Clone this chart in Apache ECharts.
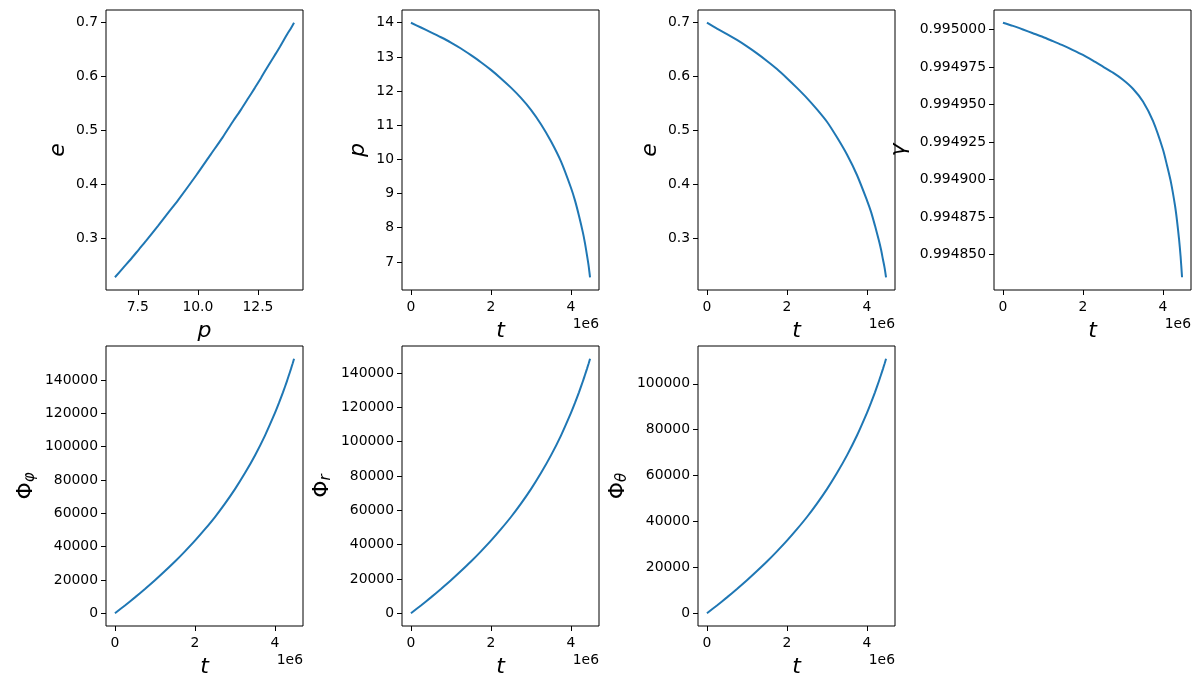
<!DOCTYPE html>
<html>
<head>
<meta charset="utf-8">
<script src="https://cdn.jsdelivr.net/npm/echarts@6/dist/echarts.min.js"></script>
<style>
html,body{margin:0;padding:0;background:#fff;}
#chart{width:1200px;height:688px;}
</style>
</head>
<body>
<div id="chart"></div>
<script>
// ---- data ----
const tValues = [0, 0.25e6, 0.5e6, 0.75e6, 1.0e6, 1.25e6, 1.5e6, 1.75e6, 2.0e6, 2.25e6, 2.5e6, 2.75e6, 3.0e6, 3.25e6, 3.5e6, 3.75e6, 4.0e6, 4.1e6, 4.2e6, 4.3e6, 4.35e6, 4.4e6, 4.44e6, 4.477e6];
const pValues = [14.00, 13.86, 13.72, 13.575, 13.42, 13.245, 13.05, 12.845, 12.62, 12.37, 12.10, 11.80, 11.45, 11.03, 10.53, 9.94, 9.17, 8.80, 8.35, 7.85, 7.55, 7.20, 6.90, 6.55];
const eValues = [0.700, 0.689, 0.679, 0.668, 0.656, 0.643, 0.629, 0.614, 0.597, 0.579, 0.560, 0.539, 0.516, 0.487, 0.455, 0.417, 0.370, 0.349, 0.323, 0.295, 0.279, 0.260, 0.245, 0.227];
const gammaValues = [0.9950045, 0.9950024, 0.9950000, 0.9949975, 0.9949950, 0.9949922, 0.9949894, 0.9949863, 0.9949830, 0.9949792, 0.9949752, 0.9949712, 0.9949665, 0.9949605, 0.9949520, 0.9949390, 0.9949200, 0.9949095, 0.9948981, 0.9948828, 0.9948728, 0.9948608, 0.9948490, 0.9948348];
const phiPhiValues = [0, 4690, 9540, 14570, 19790, 25320, 31040, 37160, 43570, 50470, 57780, 65820, 74520, 84150, 94760, 106680, 120270, 126260, 132600, 139400, 143040, 146700, 149790, 152800];
const phiRValues = [0, 4550, 9260, 14150, 19210, 24580, 30140, 36080, 42300, 49000, 56100, 63900, 72350, 81700, 92000, 103570, 116770, 122580, 128740, 135340, 138870, 142430, 145430, 148340];
const phiThetaValues = [0, 3400, 6930, 10580, 14370, 18390, 22540, 26990, 31640, 36650, 41960, 47800, 54120, 61110, 68820, 77470, 87340, 91690, 96300, 101230, 103880, 106540, 108780, 110950];

// tick labels
const tTicks = [0, 2e6, 4e6];
const pTicksX = [7.5, 10.0, 12.5];
const pTicksY = [7, 8, 9, 10, 11, 12, 13, 14];
const eTicks = [0.3, 0.4, 0.5, 0.6, 0.7];
const gammaTicks = [0.994850, 0.994875, 0.994900, 0.994925, 0.994950, 0.994975, 0.995000];
const phiTicks = [0, 20000, 40000, 60000, 80000, 100000, 120000, 140000];
const phiThetaTicks = [0, 20000, 40000, 60000, 80000, 100000];

// ---- layout ----
const COLS = [106, 402, 698, 994];
const ROWS = [10, 346];
const W = 197, H = 280;
const BLUE = '#1f77b4';
const TICK_FONT = 13.9;
const LABEL_FONT = 22;

function lims(arr) {
  let mn = Math.min(...arr), mx = Math.max(...arr);
  const m = (mx - mn) * 0.05;
  return [mn - m, mx + m];
}
const fmtT = v => String(Math.round(v / 1e6));
const fmt1 = v => v.toFixed(1);
const fmt0 = v => String(Math.round(v));
const fmt6 = v => v.toFixed(6);

const subRich = {
  b: {fontFamily: 'DejaVu Sans', fontSize: LABEL_FONT, color: '#000'},
  s: {fontFamily: 'DejaVu Sans', fontSize: 15, fontStyle: 'italic', color: '#000', verticalAlign: 'bottom', padding: [8, 0, 0, 0]},
  i: {fontFamily: 'DejaVu Sans', fontSize: LABEL_FONT, fontStyle: 'italic', color: '#000'}
};

const panels = [
  {col: 0, row: 0, x: pValues, y: eValues, xTicks: pTicksX, xFmt: fmt1, yTicks: eTicks, yFmt: fmt1, xName: 'p', yName: '{i|e}', yGap: 37, offset: false},
  {col: 1, row: 0, x: tValues, y: pValues, xTicks: tTicks, xFmt: fmtT, yTicks: pTicksY, yFmt: fmt0, xName: 't', yName: '{i|p}', yGap: 33, offset: true},
  {col: 2, row: 0, x: tValues, y: eValues, xTicks: tTicks, xFmt: fmtT, yTicks: eTicks, yFmt: fmt1, xName: 't', yName: '{i|e}', yGap: 37, offset: true},
  {col: 3, row: 0, x: tValues, y: gammaValues, xTicks: tTicks, xFmt: fmtT, yTicks: gammaTicks, yFmt: fmt6, xName: 't', yName: '{i|γ}', yGap: 84, offset: true},
  {col: 0, row: 1, x: tValues, y: phiPhiValues, xTicks: tTicks, xFmt: fmtT, yTicks: phiTicks, yFmt: fmt0, xName: 't', yName: '{b|Φ}{s|φ}', yGap: 68, offset: true},
  {col: 1, row: 1, x: tValues, y: phiRValues, xTicks: tTicks, xFmt: fmtT, yTicks: phiTicks, yFmt: fmt0, xName: 't', yName: '{b|Φ}{s|r}', yGap: 68, offset: true},
  {col: 2, row: 1, x: tValues, y: phiThetaValues, xTicks: tTicks, xFmt: fmtT, yTicks: phiThetaTicks, yFmt: fmt0, xName: 't', yName: '{b|Φ}{s|θ}', yGap: 68, offset: true}
];

const grid = [], xAxis = [], yAxis = [], series = [], graphic = [];
panels.forEach((pn, i) => {
  const left = COLS[pn.col], top = ROWS[pn.row];
  grid.push({left: left, top: top, width: W, height: H, show: true, borderColor: '#000', borderWidth: 1, backgroundColor: '#fff'});
  const [xmin, xmax] = lims(pn.x);
  const [ymin, ymax] = lims(pn.y);
  xAxis.push({
    type: 'value', gridIndex: i, min: xmin, max: xmax, scale: true, position: 'bottom',
    axisLine: {show: false, onZero: false},
    splitLine: {show: false},
    axisTick: {show: true, inside: false, length: 5, lineStyle: {color: '#000', width: 1}, customValues: pn.xTicks},
    axisLabel: {show: true, margin: 10, color: '#000', fontFamily: 'DejaVu Sans', fontSize: TICK_FONT, customValues: pn.xTicks, formatter: pn.xFmt},
    name: pn.xName, nameLocation: 'middle', nameGap: 30,
    nameTextStyle: {fontFamily: 'DejaVu Sans', fontStyle: 'italic', fontSize: LABEL_FONT, color: '#000', verticalAlign: 'top'}
  });
  yAxis.push({
    type: 'value', gridIndex: i, min: ymin, max: ymax, scale: true, position: 'left',
    axisLine: {show: false, onZero: false},
    splitLine: {show: false},
    axisTick: {show: true, inside: false, length: 5, lineStyle: {color: '#000', width: 1}, customValues: pn.yTicks},
    axisLabel: {show: true, margin: 8, color: '#000', fontFamily: 'DejaVu Sans', fontSize: TICK_FONT, customValues: pn.yTicks, formatter: pn.yFmt},
    name: pn.yName, nameLocation: 'middle', nameGap: pn.yGap, nameRotate: 90,
    nameTextStyle: {rich: subRich, color: '#000'}
  });
  series.push({
    type: 'line', xAxisIndex: i, yAxisIndex: i,
    data: pn.x.map((v, k) => [v, pn.y[k]]),
    showSymbol: false, symbol: 'none',
    smooth: 0.25,
    lineStyle: {color: BLUE, width: 2},
    silent: true
  });
  if (pn.offset) {
    graphic.push({
      type: 'text', x: left + W, y: top + H + 34,
      style: {text: '1e6', align: 'right', verticalAlign: 'middle', fontFamily: 'DejaVu Sans', fontSize: TICK_FONT, fill: '#000'}
    });
  }
});

const chart = echarts.init(document.getElementById('chart'), null, {renderer: 'canvas'});
chart.setOption({
  animation: false,
  backgroundColor: '#fff',
  grid: grid, xAxis: xAxis, yAxis: yAxis, series: series, graphic: graphic
});
</script>
</body>
</html>
